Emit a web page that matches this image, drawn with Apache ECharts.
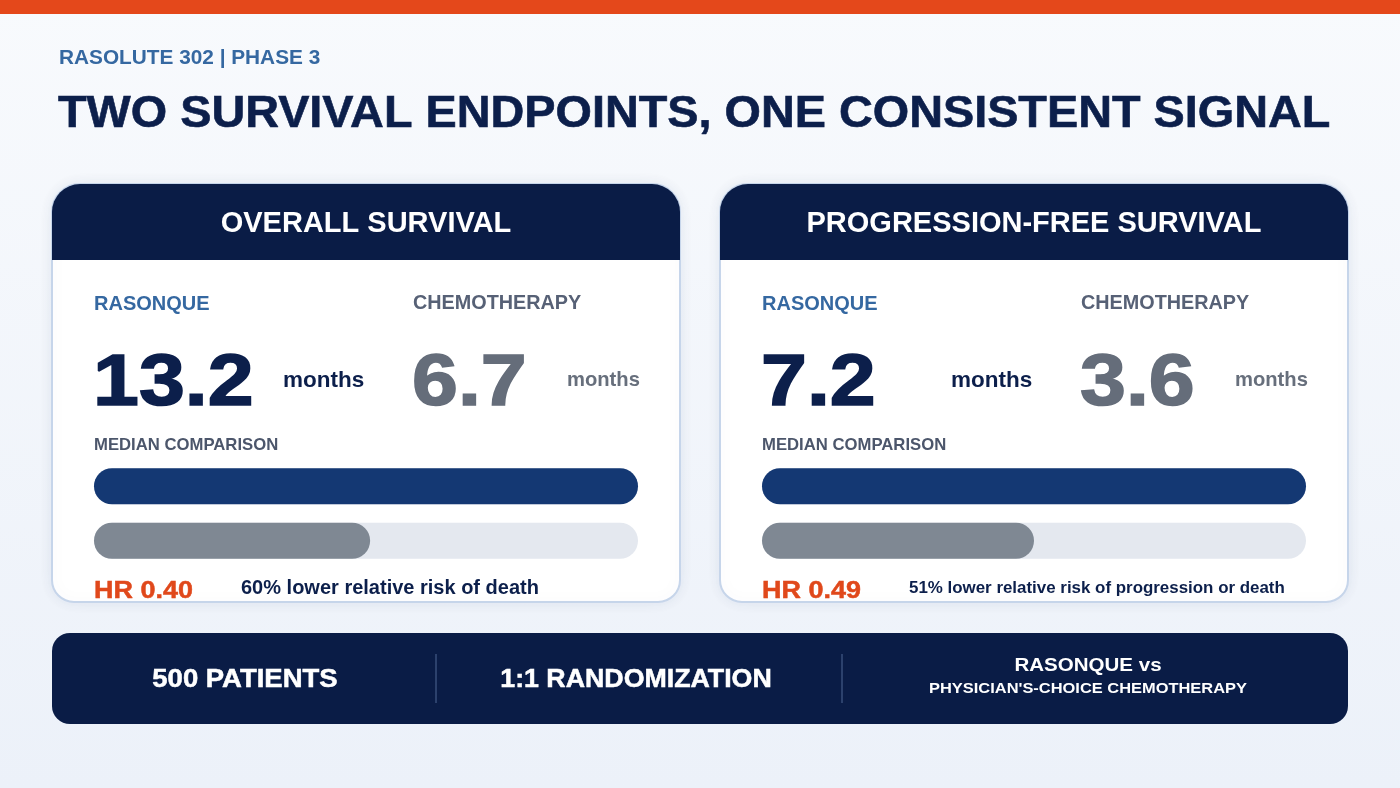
<!DOCTYPE html>
<html lang="en">
<head>
    <meta charset="UTF-8">
    <script src="https://cdn.jsdelivr.net/npm/echarts@6/dist/echarts.min.js"></script>
    <title>Rasolute 302</title>
    <style>
        html, body { margin: 0; padding: 0; }
        #main { width: 1400px; height: 788px; }
    </style>
</head>
<body>
    <div id="main"></div>
    <script type="text/javascript">
        // data
        var endpoints = ['OVERALL SURVIVAL', 'PROGRESSION-FREE SURVIVAL'];
        var arms = ['RASONQUE', 'CHEMOTHERAPY'];
        var rasonqueMonths = [13.2, 7.2];
        var chemoMonths = [6.7, 3.6];
        var hazardRatios = ['0.40', '0.49'];
        var riskNotes = ['60% lower relative risk of death', '51% lower relative risk of progression or death'];
        var trialFacts = ['500 PATIENTS', '1:1 RANDOMIZATION'];
        var comparison = ['RASONQUE vs', "PHYSICIAN'S-CHOICE CHEMOTHERAPY"];

        var FONT = '"Liberation Sans", Arial, sans-serif';
        var NAVY = '#0a1c46';
        var myChart = echarts.init(document.getElementById('main'));

        // text helper, sx = horizontal stretch (the source lettering is a bit wide)
        function txt(x, y, text, size, color, align, sx, heavy) {
            var el = {
                type: 'text', x: x, y: y, z: 5, silent: true, scaleX: sx || 1,
                style: {
                    text: text, fill: color, textAlign: align || 'left', textVerticalAlign: 'middle',
                    font: 'bold ' + size + 'px ' + FONT
                }
            };
            if (heavy) {
                // thicken strokes a little, the big figures are very heavy in the source
                el.style.stroke = color;
                el.style.lineWidth = heavy;
            }
            return el;
        }

        // shrink long notes so they fit the card
        var measure = document.createElement('canvas').getContext('2d');
        function fitSize(text, base, maxW) {
            measure.font = 'bold ' + base + 'px ' + FONT;
            var w = measure.measureText(text).width;
            return w > maxW ? base * maxW / w : base;
        }

        var elements = [
            {
                type: 'rect', z: -10, silent: true,
                shape: { x: 0, y: 0, width: 1400, height: 788 },
                style: {
                    fill: new echarts.graphic.LinearGradient(0, 0, 0, 1, [
                        { offset: 0, color: '#f8fafd' }, { offset: 1, color: '#ecf1f9' }
                    ])
                }
            },
            { type: 'rect', z: -5, silent: true, shape: { x: 0, y: 0, width: 1400, height: 14 }, style: { fill: '#e4481b' } },
            txt(59, 58, 'RASOLUTE 302 | PHASE 3', 20.8, '#3568a1'),
            txt(58, 115, 'TWO SURVIVAL ENDPOINTS, ONE CONSISTENT SIGNAL', 45, '#0c1f4b', 'left', 1.04, 0.6)
        ];

        var grids = [], xAxes = [], yAxes = [], series = [];

        endpoints.forEach(function (name, i) {
            var px = 52 + i * 668;
            elements.push({
                type: 'rect', z: 0, silent: true,
                shape: { x: px, y: 184, width: 628, height: 418, r: [28, 28, 22, 22] },
                style: { fill: '#ffffff', stroke: '#c6d5ea', lineWidth: 2, shadowBlur: 14, shadowColor: 'rgba(30,60,110,0.08)' }
            });
            elements.push({
                type: 'rect', z: 1, silent: true,
                shape: { x: px, y: 184, width: 628, height: 76, r: [28, 28, 0, 0] },
                style: { fill: NAVY }
            });
            elements.push(txt(px + 314, 224, name, 29, '#ffffff', 'center'));
            elements.push(txt(px + 42, 304, arms[0], 20, '#3568a1'));
            elements.push(txt(px + 361, 304, arms[1], 19.8, '#576176'));
            elements.push(txt(px + 41, 385, rasonqueMonths[i].toFixed(1), 73, '#0c1f4b', 'left', 1.13, 1.6));
            elements.push(txt(px + 231, 381, 'months', 22.5, '#0c1f4b'));
            elements.push(txt(px + 360, 385, chemoMonths[i].toFixed(1), 73, '#656d7a', 'left', 1.13, 1.6));
            elements.push(txt(px + 515, 380, 'months', 20.2, '#676f7c'));
            elements.push(txt(px + 42, 445, 'MEDIAN COMPARISON', 16.7, '#4c566b'));
            elements.push(txt(px + 42, 591, 'HR ' + hazardRatios[i], 24.5, '#e0481b', 'left', 1.1, 0.5));
            elements.push(txt(px + 189, 588, riskNotes[i], fitSize(riskNotes[i], 20, 376), '#0c1f4b'));

            grids.push({ left: px + 42, top: 459, width: 544, height: 109 });
            xAxes.push({ gridIndex: i, type: 'value', min: 0, max: rasonqueMonths[i], show: false });
            yAxes.push({ gridIndex: i, type: 'category', data: arms, inverse: true, show: false });
            series.push({
                type: 'bar', xAxisIndex: i, yAxisIndex: i, barWidth: 36, silent: true, z: 3,
                showBackground: true,
                backgroundStyle: { color: '#e4e8ef', borderRadius: 18 },
                data: [
                    { value: rasonqueMonths[i], itemStyle: { color: '#143873', borderRadius: 18 } },
                    { value: chemoMonths[i], itemStyle: { color: '#7f8893', borderRadius: 18 } }
                ]
            });
        });

        // bottom facts band
        elements.push({
            type: 'rect', z: 0, silent: true,
            shape: { x: 52, y: 633, width: 1296, height: 91, r: 18 },
            style: { fill: NAVY }
        });
        elements.push(txt(245, 680, trialFacts[0], 25, '#ffffff', 'center', 1.1, 0.5));
        elements.push(txt(636, 680, trialFacts[1], 25, '#ffffff', 'center', 1.07, 0.5));
        elements.push(txt(1088, 666, comparison[0], 19, '#ffffff', 'center', 1.08));
        elements.push(txt(1088, 689, comparison[1], 15.5, '#ffffff', 'center', 1.06));
        [436, 842].forEach(function (x) {
            elements.push({
                type: 'line', z: 2, silent: true,
                shape: { x1: x, y1: 654, x2: x, y2: 703 },
                style: { stroke: '#4e6793', lineWidth: 1 }
            });
        });

        var option = {
            animation: false,
            graphic: { elements: elements },
            grid: grids,
            xAxis: xAxes,
            yAxis: yAxes,
            series: series
        };
        myChart.setOption(option);
    </script>
</body>
</html>
